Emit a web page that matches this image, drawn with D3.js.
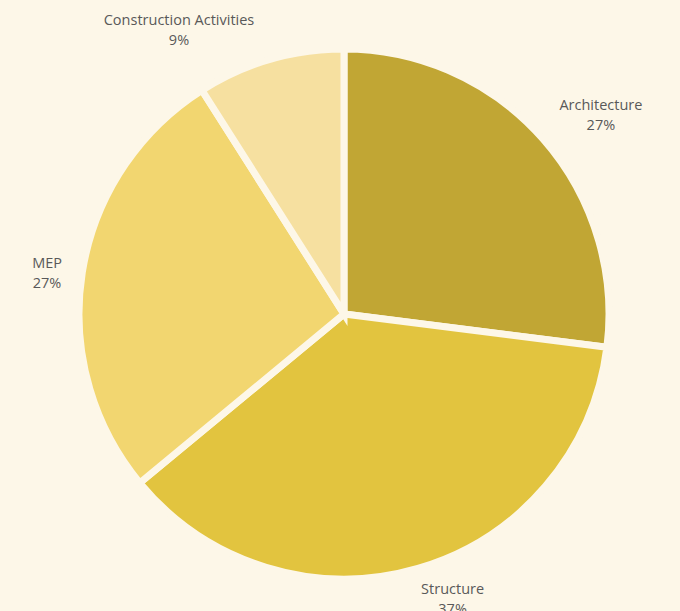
<!DOCTYPE html>
<html>
<head>
<meta charset="utf-8">
<script src="https://cdn.jsdelivr.net/npm/d3@7"></script>
<style>
  html, body { margin: 0; padding: 0; background: #FDF7E8; }
  svg { display: block; }
</style>
</head>
<body>
<svg id="chart" width="680" height="611"></svg>
<script>
// Share of work by discipline
const categories = ["Architecture", "Structure", "MEP", "Construction Activities"];
const values = [27, 37, 27, 9];
const colors = ["#C1A634", "#E2C43F", "#F2D670", "#F6E0A0"];

const width = 680, height = 611;
const cx = 344, cy = 314, radius = 265;

// Label placement around the pie: angle nudge (degrees) and distance from centre
const labelLayout = [
  { nudge: 3.4, dist: 326 },
  { nudge: -4.8, dist: 303 },
  { nudge: -0.8, dist: 300 },
  { nudge: -13.8, dist: 330 }
];

const data = categories.map((c, i) => ({ name: c, value: values[i], i }));

const svg = d3.select("#chart");
svg.append("rect").attr("width", width).attr("height", height).attr("fill", "#FDF7E8");

const pie = d3.pie().value(d => d.value).sort(null);
const arc = d3.arc().innerRadius(0).outerRadius(radius);
const color = d3.scaleOrdinal().domain(categories).range(colors);

const g = svg.append("g").attr("transform", `translate(${cx},${cy})`);
const arcs = pie(data);

g.selectAll("path.slice")
  .data(arcs)
  .join("path")
  .attr("class", "slice")
  .attr("d", arc)
  .attr("fill", d => color(d.data.name))
  .attr("stroke", "#FDF7E8")
  .attr("stroke-width", 7)
  .attr("stroke-linejoin", "miter");

const labels = g.selectAll("text.label")
  .data(arcs)
  .join("text")
  .attr("class", "label")
  .attr("text-anchor", "middle")
  .attr("font-family", "'Open Sans', Lato, sans-serif")
  .attr("font-size", 14.5)
  .attr("fill", "#595959")
  .attr("transform", d => {
    const L = labelLayout[d.data.i];
    const a = (d.startAngle + d.endAngle) / 2 + L.nudge * Math.PI / 180;
    const [x, y] = d3.pointRadial(a, L.dist);
    return `translate(${x},${y})`;
  });

labels.append("tspan").attr("x", 0).attr("dy", "-0.2em").text(d => d.data.name);
labels.append("tspan").attr("x", 0).attr("dy", "1.35em").text(d => d.data.value + "%");
</script>
</body>
</html>
